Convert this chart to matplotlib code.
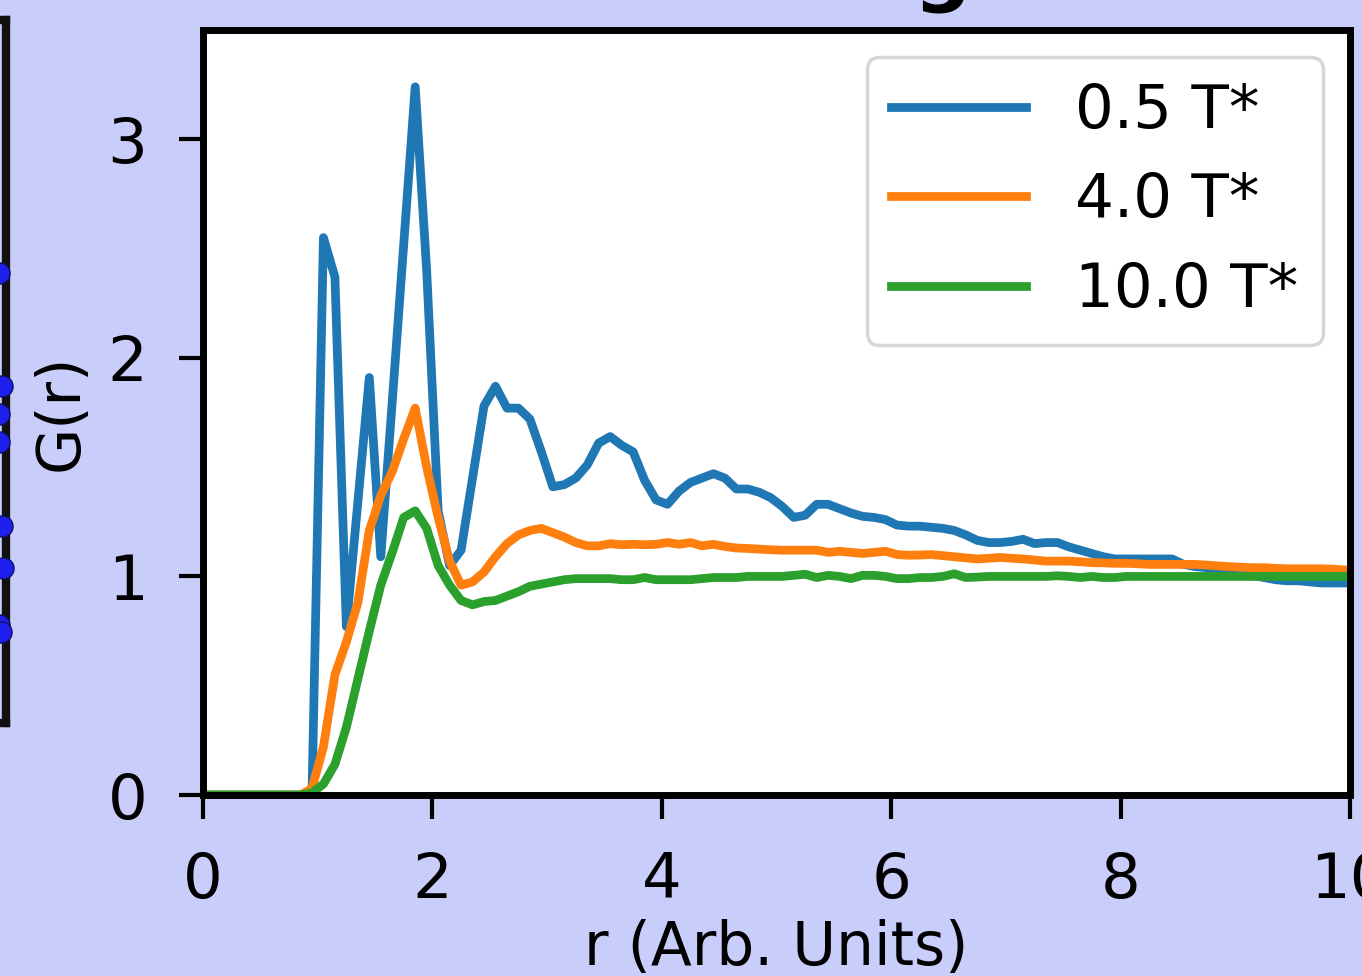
import numpy as np
import matplotlib
matplotlib.use("Agg")
import matplotlib.pyplot as plt

# bin centres of the radial distribution (Arb. Units)
r = np.round(np.arange(0.05, 10.0, 0.1), 2)

g_low = [0, 0, 0, 0, 0, 0, 0, 0, 0, 0,
         2.55, 2.37, 0.77, 1.34, 1.91, 1.09, 1.80, 2.52, 3.24, 2.40,
         1.30, 1.05, 1.12, 1.45, 1.78, 1.87, 1.77, 1.77, 1.72, 1.57,
         1.41, 1.42, 1.45, 1.51, 1.61, 1.64, 1.60, 1.57, 1.44, 1.35,
         1.33, 1.39, 1.43, 1.45, 1.47, 1.45, 1.40, 1.40, 1.385, 1.36,
         1.32, 1.27, 1.28, 1.33, 1.33, 1.31, 1.29, 1.275, 1.27, 1.26,
         1.235, 1.23, 1.23, 1.225, 1.22, 1.21, 1.19, 1.165, 1.155, 1.155,
         1.16, 1.17, 1.15, 1.155, 1.155, 1.135, 1.12, 1.105, 1.09, 1.08,
         1.08, 1.08, 1.08, 1.08, 1.08, 1.055, 1.045, 1.04, 1.035, 1.025,
         1.015, 1.005, 0.995, 0.985, 0.98, 0.98, 0.975, 0.97, 0.97, 0.97]

g_mid = [0, 0, 0, 0, 0, 0, 0, 0, 0, 0.03,
         0.22, 0.55, 0.70, 0.88, 1.21, 1.37, 1.48, 1.63, 1.77, 1.50,
         1.27, 1.07, 0.96, 0.975, 1.02, 1.09, 1.15, 1.19, 1.21, 1.22,
         1.20, 1.18, 1.155, 1.14, 1.14, 1.15, 1.145, 1.147, 1.145, 1.147,
         1.155, 1.147, 1.155, 1.14, 1.147, 1.137, 1.13, 1.128, 1.125, 1.122,
         1.12, 1.12, 1.12, 1.12, 1.11, 1.115, 1.11, 1.105, 1.11, 1.115,
         1.10, 1.097, 1.098, 1.10, 1.095, 1.09, 1.085, 1.08, 1.083, 1.087,
         1.083, 1.08, 1.075, 1.07, 1.07, 1.07, 1.067, 1.063, 1.062, 1.06,
         1.06, 1.058, 1.055, 1.055, 1.055, 1.055, 1.055, 1.052, 1.048, 1.045,
         1.042, 1.04, 1.04, 1.037, 1.035, 1.035, 1.035, 1.035, 1.033, 1.03]

g_high = [0, 0, 0, 0, 0, 0, 0, 0, 0, 0.01,
          0.05, 0.14, 0.31, 0.53, 0.75, 0.96, 1.11, 1.27, 1.30, 1.22,
          1.05, 0.96, 0.89, 0.87, 0.885, 0.89, 0.91, 0.93, 0.955, 0.965,
          0.975, 0.985, 0.99, 0.99, 0.99, 0.99, 0.985, 0.985, 0.995, 0.985,
          0.985, 0.985, 0.985, 0.99, 0.995, 0.995, 0.995, 1.0, 1.0, 1.0,
          1.0, 1.005, 1.01, 0.995, 1.005, 1.0, 0.99, 1.005, 1.005, 1.0,
          0.99, 0.99, 0.995, 0.995, 1.0, 1.012, 0.995, 0.997, 1.0, 1.0,
          1.0, 1.0, 1.0, 1.0, 1.003, 1.0, 0.995, 1.0, 0.995, 0.995,
          1.0, 1.0, 1.0, 1.0, 1.0, 1.0, 1.0, 1.0, 1.0, 1.0,
          1.0, 1.0, 1.0, 1.0, 1.0, 1.0, 1.0, 1.0, 1.0, 1.0]

labels = ["0.5 T*", "4.0 T*", "10.0 T*"]
colors = ["#1f77b4", "#ff7f0e", "#2ca02c"]

# atoms peeking in from the neighbouring panel (x, y in that panel's units)
atom_x = [0.975, 0.985, 0.975, 0.975, 0.985, 0.99, 0.975, 0.98]
atom_y = [0.64, 0.48, 0.44, 0.40, 0.28, 0.22, 0.14, 0.13]

bg = "#c9cdf9"
fig = plt.figure(figsize=(13.62, 9.76), dpi=100, facecolor=bg)

# neighbouring panel, only its right edge is visible
side = fig.add_axes([-0.2, 253 / 976, 0.2045, 703 / 976])
side.set_xlim(0, 1)
side.set_ylim(0, 1)
side.set_facecolor(bg)
side.scatter(atom_x, atom_y, s=230, color="#2020ee", edgecolor="#101060",
             zorder=3, clip_on=False)
for s in side.spines.values():
    s.set_linewidth(6)
    s.set_color("#111111")
side.set_xticks([])
side.set_yticks([])

ax = fig.add_axes([203 / 1362, 181 / 976, 1147 / 1362, 765 / 976])
for y, lab, c in zip([g_low, g_mid, g_high], labels, colors):
    ax.plot(r, y, color=c, lw=6.3, label=lab)

ax.set_xlim(0, 10)
ax.set_ylim(0, 3.5)
ax.set_xticks([0, 2, 4, 6, 8, 10])
ax.set_yticks([0, 1, 2, 3])
ax.tick_params(labelsize=45, length=17, width=3, pad=23)
for s in ax.spines.values():
    s.set_linewidth(5)
ax.set_xlabel("r (Arb. Units)", fontsize=43, labelpad=6)
ax.set_ylabel("G(r)", fontsize=43, labelpad=12)
ax.set_title("Heating", fontsize=58, fontweight="bold", pad=25, x=0.515)

leg = ax.legend(loc="upper right", fontsize=44, handlelength=2.2, borderaxespad=0.45)
leg.get_frame().set_linewidth(2.5)

fig.savefig("out.png", dpi=100, facecolor=bg)
